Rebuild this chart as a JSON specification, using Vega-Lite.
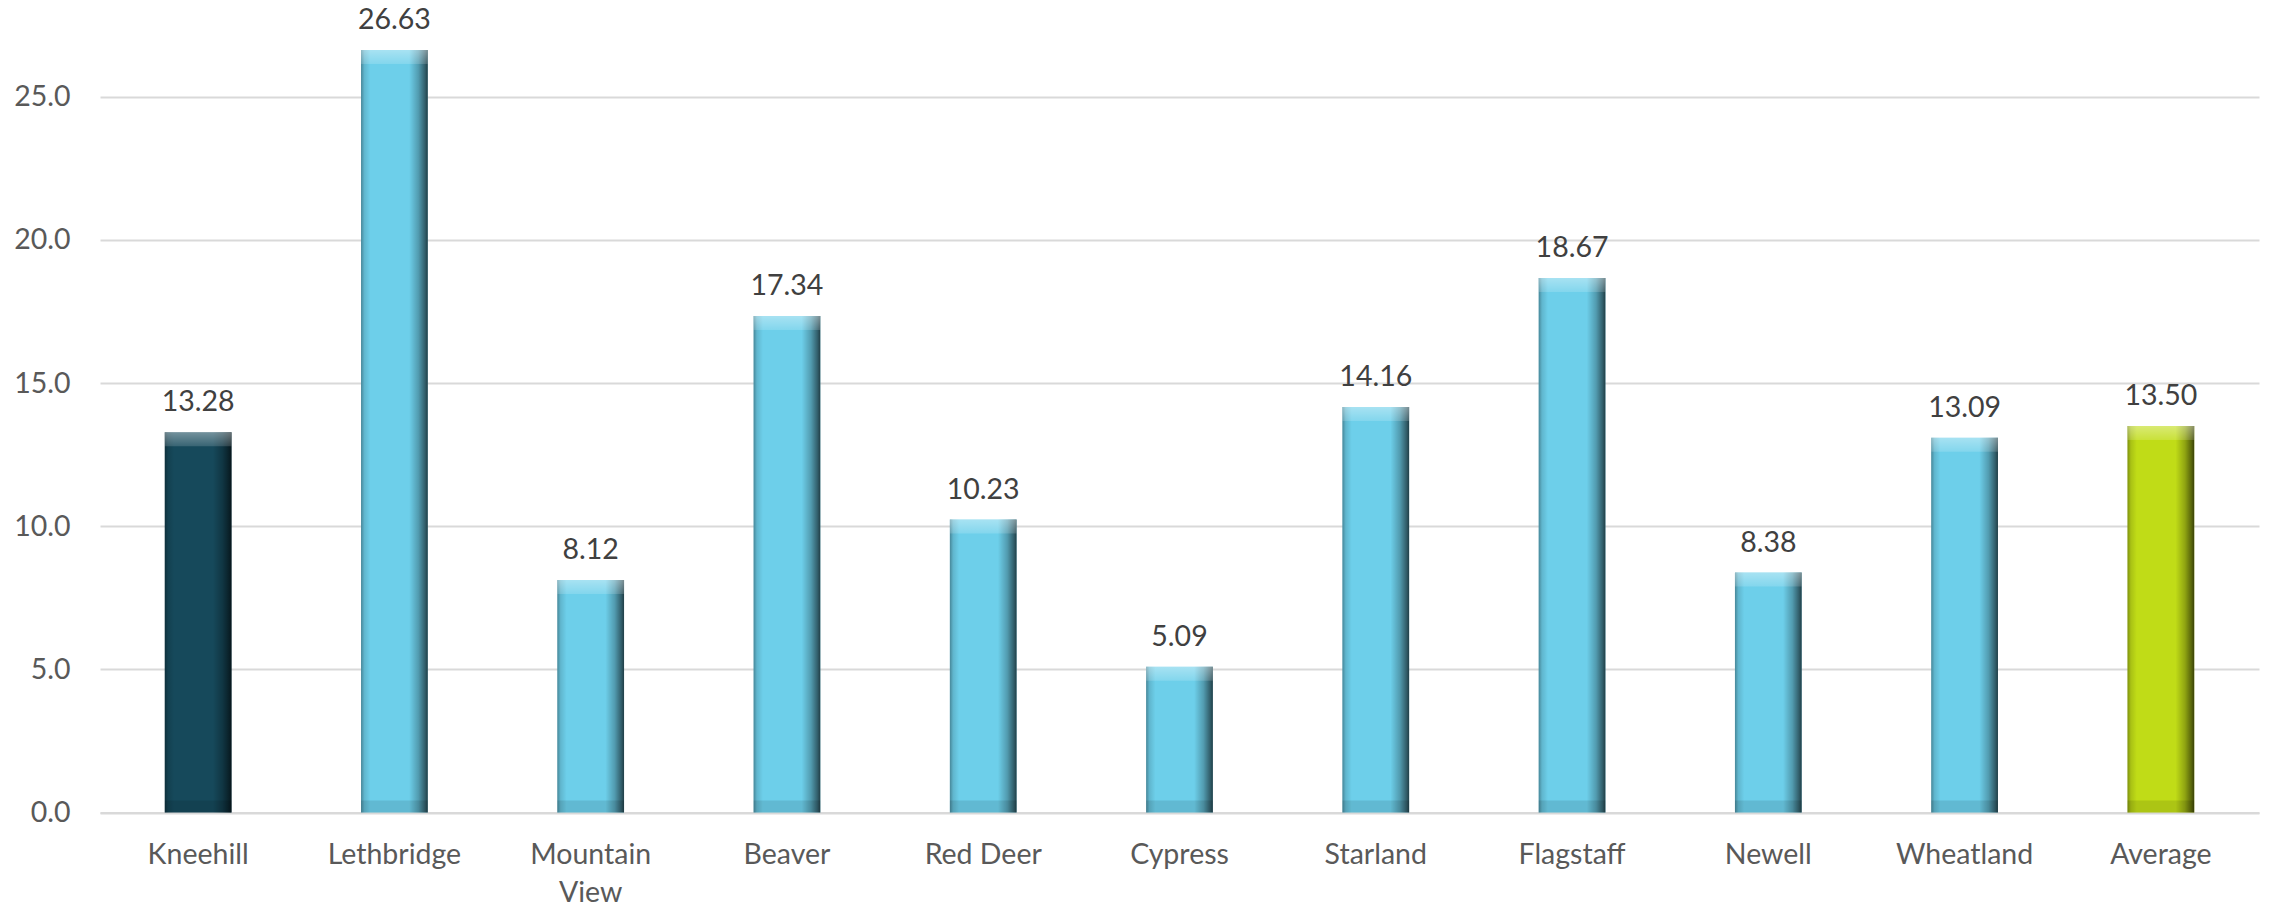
{
  "$schema": "https://vega.github.io/schema/vega-lite/v6.json",
  "width": 2159,
  "height": 812.5,
  "autosize": {"type": "none"},
  "padding": {"left": 100, "top": 0, "right": 19, "bottom": 94.5},
  "background": "white",
  "config": {"view": {"stroke": null}, "font": "Lato"},
  "data": {
    "values": [
      {"District": "Kneehill", "value": 13.28},
      {"District": "Lethbridge", "value": 26.63},
      {"District": "Mountain View", "value": 8.12},
      {"District": "Beaver", "value": 17.34},
      {"District": "Red Deer", "value": 10.23},
      {"District": "Cypress", "value": 5.09},
      {"District": "Starland", "value": 14.16},
      {"District": "Flagstaff", "value": 18.67},
      {"District": "Newell", "value": 8.38},
      {"District": "Wheatland", "value": 13.09},
      {"District": "Average", "value": 13.5}
    ]
  },
  "encoding": {
    "x": {
      "field": "District",
      "type": "nominal",
      "sort": null,
      "scale": {"paddingInner": 0.66, "paddingOuter": 0.33},
      "axis": {
        "title": null,
        "labelAngle": 0,
        "labelFontSize": 28.5,
        "labelColor": "#595959",
        "labelPadding": 28,
        "labelLineHeight": 38,
        "labelExpr": "datum.label == 'Mountain View' ? ['Mountain', 'View'] : datum.label",
        "ticks": false,
        "domain": true,
        "domainColor": "#d9d9d9",
        "domainWidth": 2
      }
    }
  },
  "layer": [
    {
      "mark": {"type": "bar"},
      "encoding": {
        "y": {
          "field": "value",
          "type": "quantitative",
          "scale": {"domain": [0, 28.38], "nice": false, "zero": true},
          "axis": {
            "title": null,
            "values": [0, 5, 10, 15, 20, 25],
            "format": ".1f",
            "grid": true,
            "gridColor": "#d9d9d9",
            "gridWidth": 2,
            "domain": false,
            "ticks": false,
            "labelPadding": 30,
            "labelFontSize": 28.5,
            "labelColor": "#595959"
          }
        },
        "color": {
          "condition": [
            {"test": "datum.District === 'Kneehill'", "value": "#16495b"},
            {"test": "datum.District === 'Average'", "value": "#c0dc17"}
          ],
          "value": "#6dcfea"
        }
      }
    },
    {
      "mark": {
        "type": "bar",
        "fill": {
          "gradient": "linear",
          "x1": 0, "y1": 0, "x2": 1, "y2": 0,
          "stops": [
            {"offset": 0, "color": "rgba(0,0,0,0.35)"},
            {"offset": 0.05, "color": "rgba(0,0,0,0.12)"},
            {"offset": 0.14, "color": "rgba(0,0,0,0)"},
            {"offset": 0.72, "color": "rgba(0,0,0,0)"},
            {"offset": 0.86, "color": "rgba(0,0,0,0.25)"},
            {"offset": 0.96, "color": "rgba(0,0,0,0.55)"},
            {"offset": 1, "color": "rgba(0,0,0,0.7)"}
          ]
        }
      },
      "encoding": {"y": {"field": "value", "type": "quantitative"}}
    },
    {
      "mark": {
        "type": "bar",
        "y2Offset": 14,
        "fill": {
          "gradient": "linear",
          "x1": 0, "y1": 0, "x2": 0, "y2": 1,
          "stops": [
            {"offset": 0, "color": "rgba(255,255,255,0.4)"},
            {"offset": 1, "color": "rgba(255,255,255,0.15)"}
          ]
        }
      },
      "encoding": {
        "y": {"field": "value", "type": "quantitative"},
        "y2": {"field": "value"}
      }
    },
    {
      "mark": {"type": "bar", "yOffset": -12, "fill": "rgba(0,0,0,0.1)"},
      "encoding": {
        "y": {"datum": 0, "type": "quantitative"},
        "y2": {"datum": 0}
      }
    },
    {
      "mark": {
        "type": "text",
        "baseline": "alphabetic",
        "dy": -21,
        "fontSize": 28.5,
        "color": "#404040"
      },
      "encoding": {
        "y": {"field": "value", "type": "quantitative"},
        "text": {"field": "value", "type": "quantitative", "format": ".2f"}
      }
    }
  ]
}
